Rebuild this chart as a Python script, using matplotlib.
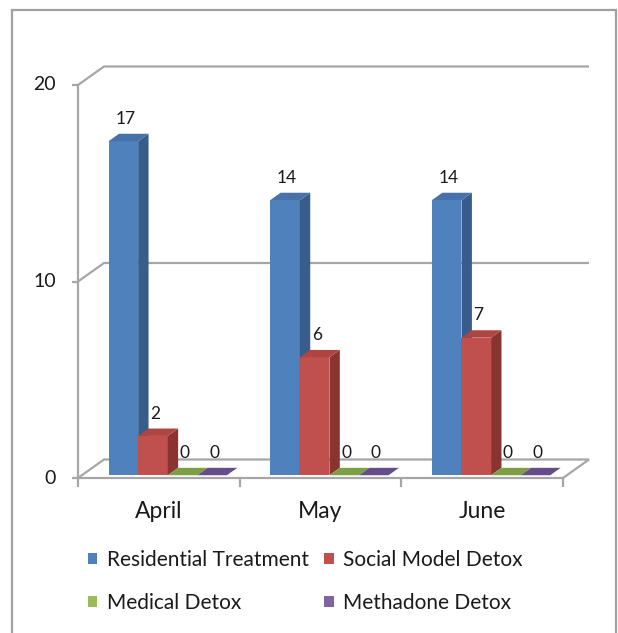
import matplotlib
matplotlib.use("Agg")
import matplotlib.pyplot as plt
from matplotlib.patches import Polygon, Rectangle, Patch

# ---------------- data ----------------
categories = ["April", "May", "June"]
series_names = ["Residential Treatment", "Social Model Detox", "Medical Detox", "Methadone Detox"]
residential = [17, 14, 14]
social_model = [2, 6, 7]
medical = [0, 0, 0]
methadone = [0, 0, 0]
y_ticks = [0, 10, 20]

series_values = [residential, social_model, medical, methadone]
front_colors = ["#4F81BD", "#C0504D", "#9BBB59", "#8064A2"]
side_colors = ["#385D8A", "#8A3431", "#6E8A38", "#5C4678"]
top_colors = ["#4672A9", "#AE4541", "#7F9F45", "#654C8A"]

plt.rcParams["font.family"] = ["Lato", "DejaVu Sans"]

W_PX, H_PX = 618, 633
fig = plt.figure(figsize=(W_PX / 100, H_PX / 100), dpi=100)

# front floor: x 78..563 px, value 0 at y=478 px, 20 at y=85 px
left_px, right_px = 78, 563
zero_px, top_px = 478, 85
ax = fig.add_axes([left_px / W_PX, 1 - zero_px / H_PX,
                   (right_px - left_px) / W_PX, (zero_px - top_px) / H_PX])
ncat = len(categories)
vmax = 20
ax.set_xlim(0, ncat)
ax.set_ylim(0, vmax)
ax.axis("off")

px_x = (right_px - left_px) / ncat          # pixels per category unit
px_y = (zero_px - top_px) / vmax            # pixels per value unit
DX = 26 / px_x                               # depth offset (full depth) in data units
DY = 18.5 / px_y


def P(x, v, d):
    return (x + d * DX, v + d * DY)


grid_col = "#A6A6A6"
line_kw = dict(color=grid_col, lw=1.6, clip_on=False, solid_capstyle="butt")

# floor
floor = Polygon([P(0, 0, 0), P(ncat, 0, 0), P(ncat, 0, 1), P(0, 0, 1)], closed=True,
                facecolor="white", edgecolor=grid_col, lw=1.6, clip_on=False, zorder=1)
ax.add_patch(floor)
# walls gridlines
for v in y_ticks[1:]:
    pts = [P(0, v, 0), P(0, v, 1), P(ncat, v, 1)]
    ax.plot([p[0] for p in pts], [p[1] for p in pts], zorder=1, **line_kw)
# value axis
ax.plot([0, 0], [0, vmax], zorder=1, **line_kw)
tick_len_x = 6 / px_x
for v in y_ticks:
    ax.plot([-tick_len_x, 0], [v, v], zorder=1, **line_kw)
    ax.text(-22 / px_x, v, str(v), ha="right", va="center", fontsize=14, color="#1a1a1a")
# category ticks
tick_len_y = 9 / px_y
for i in range(ncat + 1):
    ax.plot([i, i], [0, -tick_len_y], zorder=1, **line_kw)
for i, c in enumerate(categories):
    ax.text(i + 0.5, -33 / px_y, c, ha="center", va="center", fontsize=16.5, color="#1a1a1a")

# bars
group_off = 0.165
bw = 0.183
d0, d1 = 0.15, 0.55
z = 3
for i in range(ncat):
    for j, vals in enumerate(series_values):
        v = vals[i]
        x0 = i + group_off + j * bw
        x1 = x0 + bw
        front = [P(x0, 0, d0), P(x1, 0, d0), P(x1, v, d0), P(x0, v, d0)]
        side = [P(x1, 0, d0), P(x1, 0, d1), P(x1, v, d1), P(x1, v, d0)]
        top = [P(x0, v, d0), P(x1, v, d0), P(x1, v, d1), P(x0, v, d1)]
        if v > 0:
            ax.add_patch(Polygon(front, closed=True, facecolor=front_colors[j],
                                 edgecolor="none", clip_on=False, zorder=z))
            ax.add_patch(Polygon(side, closed=True, facecolor=side_colors[j],
                                 edgecolor="none", clip_on=False, zorder=z))
        ax.add_patch(Polygon(top, closed=True, facecolor=top_colors[j],
                             edgecolor="none", clip_on=False, zorder=z))
        z += 1
        lx = (x0 + x1) / 2 + 6 / px_x
        ly = v + d1 * DY + 15 / px_y
        ax.text(lx, ly, str(v), ha="center", va="center", fontsize=12.5,
                color="#1a1a1a", zorder=50)

# legend (row-major order in picture => column-major handles)
handles = [Patch(facecolor=front_colors[k], edgecolor="none") for k in range(4)]
order = [0, 2, 1, 3]
leg = fig.legend([handles[k] for k in order], [series_names[k] for k in order],
                 ncol=2, loc="upper left", bbox_to_anchor=(88 / W_PX, 1 - 550 / H_PX),
                 frameon=False, fontsize=15, handlelength=0.45, handleheight=0.45,
                 handletextpad=0.45, columnspacing=0.75, labelspacing=1.1,
                 borderaxespad=0, borderpad=0)
for t in leg.get_texts():
    t.set_color("#1a1a1a")

# chart border
fig.patches.append(Rectangle((12 / W_PX, -0.05), (616 - 12) / W_PX, (H_PX - 10) / H_PX + 0.05,
                             transform=fig.transFigure, fill=False, edgecolor="#A0A0A0",
                             lw=1.6))

fig.savefig("out.png", dpi=100, facecolor="white")
